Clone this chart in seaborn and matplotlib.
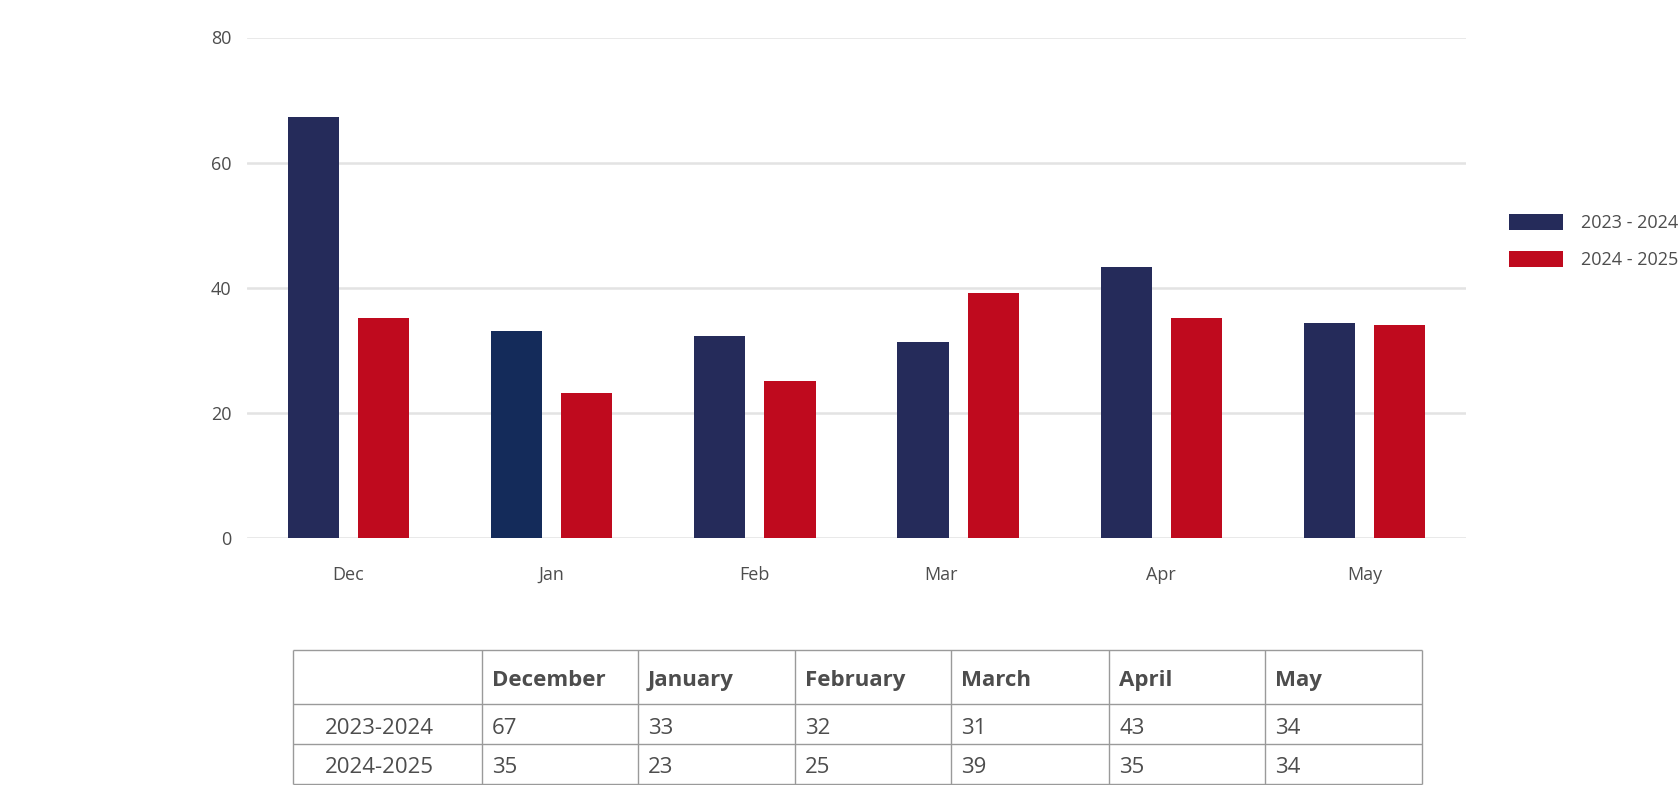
import pandas as pd
import matplotlib
matplotlib.use('Agg')
import matplotlib.pyplot as plt
import matplotlib.transforms as mtransforms
import seaborn as sns

# chart data
months = ['Dec', 'Jan', 'Feb', 'Mar', 'Apr', 'May']
month_names = ['December', 'January', 'February', 'March', 'April', 'May']
seasons = ['2023 - 2024', '2024 - 2025']
row_labels = ['2023-2024', '2024-2025']
values_2324 = [67.3, 33.1, 32.3, 31.3, 43.3, 34.3]
values_2425 = [35.1, 23.1, 25.1, 39.1, 35.1, 34.1]
table_2324 = [67, 33, 32, 31, 43, 34]
table_2425 = [35, 23, 25, 39, 35, 34]
y_ticks = [0, 20, 40, 60, 80]

NAVY = '#252b5a'
NAVY_JAN = '#142b5a'
RED = '#bf0a1e'
TEXT = '#4d4d4d'
GRID = '#e3e3e3'
LINE = '#9a9a9a'

sns.set_theme(style='white')
plt.rcParams['font.family'] = ['Open Sans', 'DejaVu Sans']

df = pd.DataFrame({
    'month': months * 2,
    'season': [seasons[0]] * len(months) + [seasons[1]] * len(months),
    'value': values_2324 + values_2425,
})

W, H = 1678, 785
fig = plt.figure(figsize=(W / 100, H / 100), dpi=100)
ax = fig.add_axes([247 / W, 1 - 538 / H, (1466 - 247) / W, (538 - 37.5) / H])

sns.barplot(data=df, x='month', y='value', hue='season', order=months,
            hue_order=seasons, palette=[NAVY, RED], width=0.69, gap=0.27,
            saturation=1, linewidth=0, ax=ax)
# january bar of the first season is a slightly different blue in the original
ax.containers[0][1].set_facecolor(NAVY_JAN)

ax.set_xlim(-0.5, len(months) - 0.5)
ax.set_ylim(0, 80)
ax.set_yticks(y_ticks)
ax.yaxis.grid(True, color=GRID, linewidth=1.8)
ax.set_axisbelow(True)
sns.despine(ax=ax, left=True, bottom=True)
ax.set_xlabel('')
ax.set_ylabel('')
ax.tick_params(axis='x', length=0, pad=20, labelsize=13, labelcolor=TEXT)
ax.tick_params(axis='y', length=0, pad=11, labelsize=13, labelcolor=TEXT)

# the "Mar" label sits a bit left of its group in the original
mar = ax.get_xticklabels()[months.index('Mar')]
mar.set_transform(mar.get_transform() + mtransforms.ScaledTranslation(-0.17, 0, fig.dpi_scale_trans))

handles, labels = ax.get_legend_handles_labels()
ax.get_legend().remove()
fig.legend(handles, labels, loc='upper left', bbox_to_anchor=(1509 / W, 1 - 214 / H),
           bbox_transform=fig.transFigure, frameon=False, fontsize=13,
           handlelength=3.0, handleheight=1.0, handletextpad=1.0,
           labelspacing=1.05, borderpad=0, borderaxespad=0, labelcolor=TEXT)

# data table under the chart
tab = fig.add_axes([293 / W, 1 / H, (1422 - 293) / W, 134 / H])
tab.set_xlim(0, 1129)
tab.set_ylim(134, 0)
tab.axis('off')
col_edges = [0, 189, 345, 502, 658, 816, 972, 1129]
row_edges = [0, 54, 94, 134]
baselines = [36, 84, 123]
tab.hlines(row_edges, 0, col_edges[-1], color=LINE, linewidth=1, clip_on=False)
tab.vlines(col_edges, 0, row_edges[-1], color=LINE, linewidth=1, clip_on=False)

for i, name in enumerate(month_names):
    tab.text(col_edges[i + 1] + 10, baselines[0], name, ha='left', va='baseline',
             fontsize=16, fontweight='bold', color=TEXT)
for r, (label, vals) in enumerate(zip(row_labels, [table_2324, table_2425])):
    yb = baselines[r + 1]
    tab.text(32, yb, label, ha='left', va='baseline', fontsize=16, color=TEXT)
    for i, v in enumerate(vals):
        tab.text(col_edges[i + 1] + 10, yb, str(v), ha='left', va='baseline',
                 fontsize=16, color=TEXT)

fig.savefig('out.png', dpi=100)
